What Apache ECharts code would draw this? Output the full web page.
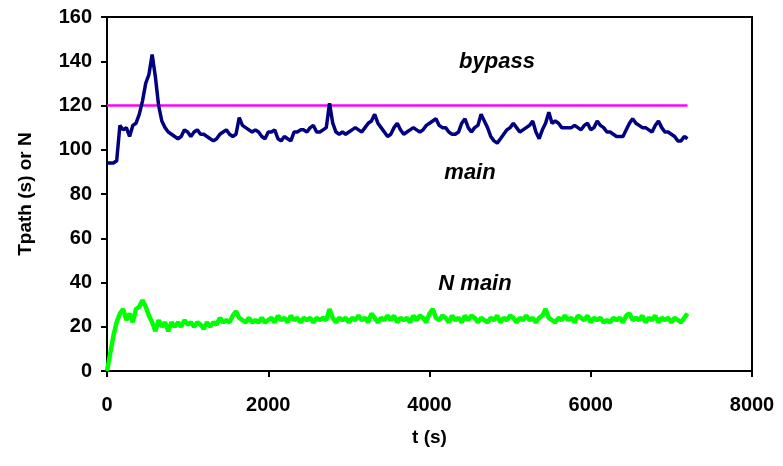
<!DOCTYPE html>
<html><head><meta charset="utf-8">
<script src="https://cdn.jsdelivr.net/npm/echarts@6/dist/echarts.min.js"></script>
<style>html,body{margin:0;padding:0;background:#fff}#c{width:783px;height:466px}</style>
</head><body><div id="c"></div>
<script>
// sampling interval of the time series (s)
const timeStep = 40;
// main path travel time Tpath (s), sampled every 40 s from t = 0 to 7200
const mainValues = [
  94,94,94,95,111,109,110,106,111,112,
  116,122,130,134,143,133,120,113,110,108,
  107,106,105,106,109,108,106,108,109,107,
  107,106,105,104,105,107,108,109,107,106,
  107,114.5,111,110,109,108,109,108,106,105,
  108,108,109,105,104,106,105,104,108,108,
  109,109,108,110,111,108,108,109,110,121,
  112,108,107,108,107,108,109,110,109,108,
  110,112,113,116,112,110,108,106,107,110,
  112,109,107,108,109,110,109,108,109,111,
  112,113,114,111,110,110,108,107,107,108,
  112,114,110,108,110,111,116,113,110,106,
  104,103,105,107,109,110,112,110,108,109,
  110,111,113,108,105,109,112,117,112,113,
  112,110,110,110,110,111,110,109,111,112,
  109,110,113,111,110,108,108,107,106,106,
  106,109,112,114,112,111,110,110,109,108,
  111,113,110,108,108,107,106,104,104,106,
  105
];
// N main (vehicles on main path), sampled every 40 s
const nMainValues = [
  0,8,16,22,26,28,23,26,22,28,
  29,32,29,25,22,18,23,20,22,18,
  22,20,22,20,23,21,22,20,22,21,
  19,22,20,22,21,24,22,23,22,25,
  27,24,23,22,24,22,23,22,24,22,
  23,24,22,25,23,24,22,25,23,24,
  22,24,23,24,22,24,23,24,23,28,
  24,22,24,23,24,22,24,23,25,23,
  24,22,26,24,22,24,23,25,23,25,
  22,24,23,24,22,25,23,25,24,22,
  26,28,24,23,25,24,22,25,23,24,
  22,25,23,25,24,22,24,23,22,24,
  23,25,22,24,23,25,24,22,24,23,
  25,23,24,22,24,25,28,24,23,22,
  24,23,25,23,24,22,25,24,23,25,
  22,24,23,24,22,23,22,24,23,24,
  22,25,26,23,24,23,25,22,24,23,
  25,22,24,23,24,22,24,23,22,24,
  26
];
// bypass path travel time (constant)
const bypassTimes = [0, 7200];
const bypassValues = [120, 120];
// axis ticks
const xMin = 0, xMax = 8000, xInterval = 2000;
const yMin = 0, yMax = 160, yInterval = 20;

const pair = (vals) => vals.map((v, i) => [i * timeStep, v]);
const FONT = '"Liberation Sans", Arial, sans-serif';

const chart = echarts.init(document.getElementById('c'), null, {renderer: 'canvas'});
chart.setOption({
  animation: false,
  backgroundColor: '#fff',
  grid: {left: 107, right: 31, top: 17, bottom: 95, show: true, borderColor: '#000', borderWidth: 2},
  xAxis: {
    type: 'value', min: xMin, max: xMax, interval: xInterval,
    axisLine: {show: true, onZero: false, lineStyle: {color: '#000', width: 2}},
    axisTick: {show: true, inside: false, length: 6, lineStyle: {color: '#000', width: 2}},
    axisLabel: {color: '#000', fontFamily: FONT, fontWeight: 'bold', fontSize: 20, margin: 24,
                formatter: (v) => String(v)},
    splitLine: {show: false},
    name: 't (s)', nameLocation: 'middle', nameGap: 57,
    nameTextStyle: {color: '#000', fontFamily: FONT, fontWeight: 'bold', fontSize: 19}
  },
  yAxis: {
    type: 'value', min: yMin, max: yMax, interval: yInterval,
    axisLine: {show: true, lineStyle: {color: '#000', width: 2}},
    axisTick: {show: true, inside: false, length: 6, lineStyle: {color: '#000', width: 2}},
    axisLabel: {color: '#000', fontFamily: FONT, fontWeight: 'bold', fontSize: 20, margin: 15},
    splitLine: {show: false},
    name: 'Tpath (s) or N', nameLocation: 'middle', nameGap: 72,
    nameTextStyle: {color: '#000', fontFamily: FONT, fontWeight: 'bold', fontSize: 19}
  },
  series: [
    {name: 'bypass', type: 'line', data: bypassTimes.map((t, i) => [t, bypassValues[i]]),
     showSymbol: false, lineStyle: {color: '#FF00FF', width: 2.5}, z: 3},
    {name: 'main', type: 'line', data: pair(mainValues),
     showSymbol: false, lineStyle: {color: '#000080', width: 3.5}, z: 4},
    {name: 'N main', type: 'line', data: pair(nMainValues),
     showSymbol: false, lineStyle: {color: '#00FF00', width: 4.5}, z: 4}
  ],
  graphic: [
    {type: 'text', style: {text: 'bypass', x: 497, y: 62, textAlign: 'center', textVerticalAlign: 'middle', fill: '#000', font: 'italic bold 22px ' + FONT}},
    {type: 'text', style: {text: 'main', x: 470, y: 173, textAlign: 'center', textVerticalAlign: 'middle', fill: '#000', font: 'italic bold 22px ' + FONT}},
    {type: 'text', style: {text: 'N main', x: 475, y: 284, textAlign: 'center', textVerticalAlign: 'middle', fill: '#000', font: 'italic bold 22px ' + FONT}}
  ]
});
</script>
</body></html>
